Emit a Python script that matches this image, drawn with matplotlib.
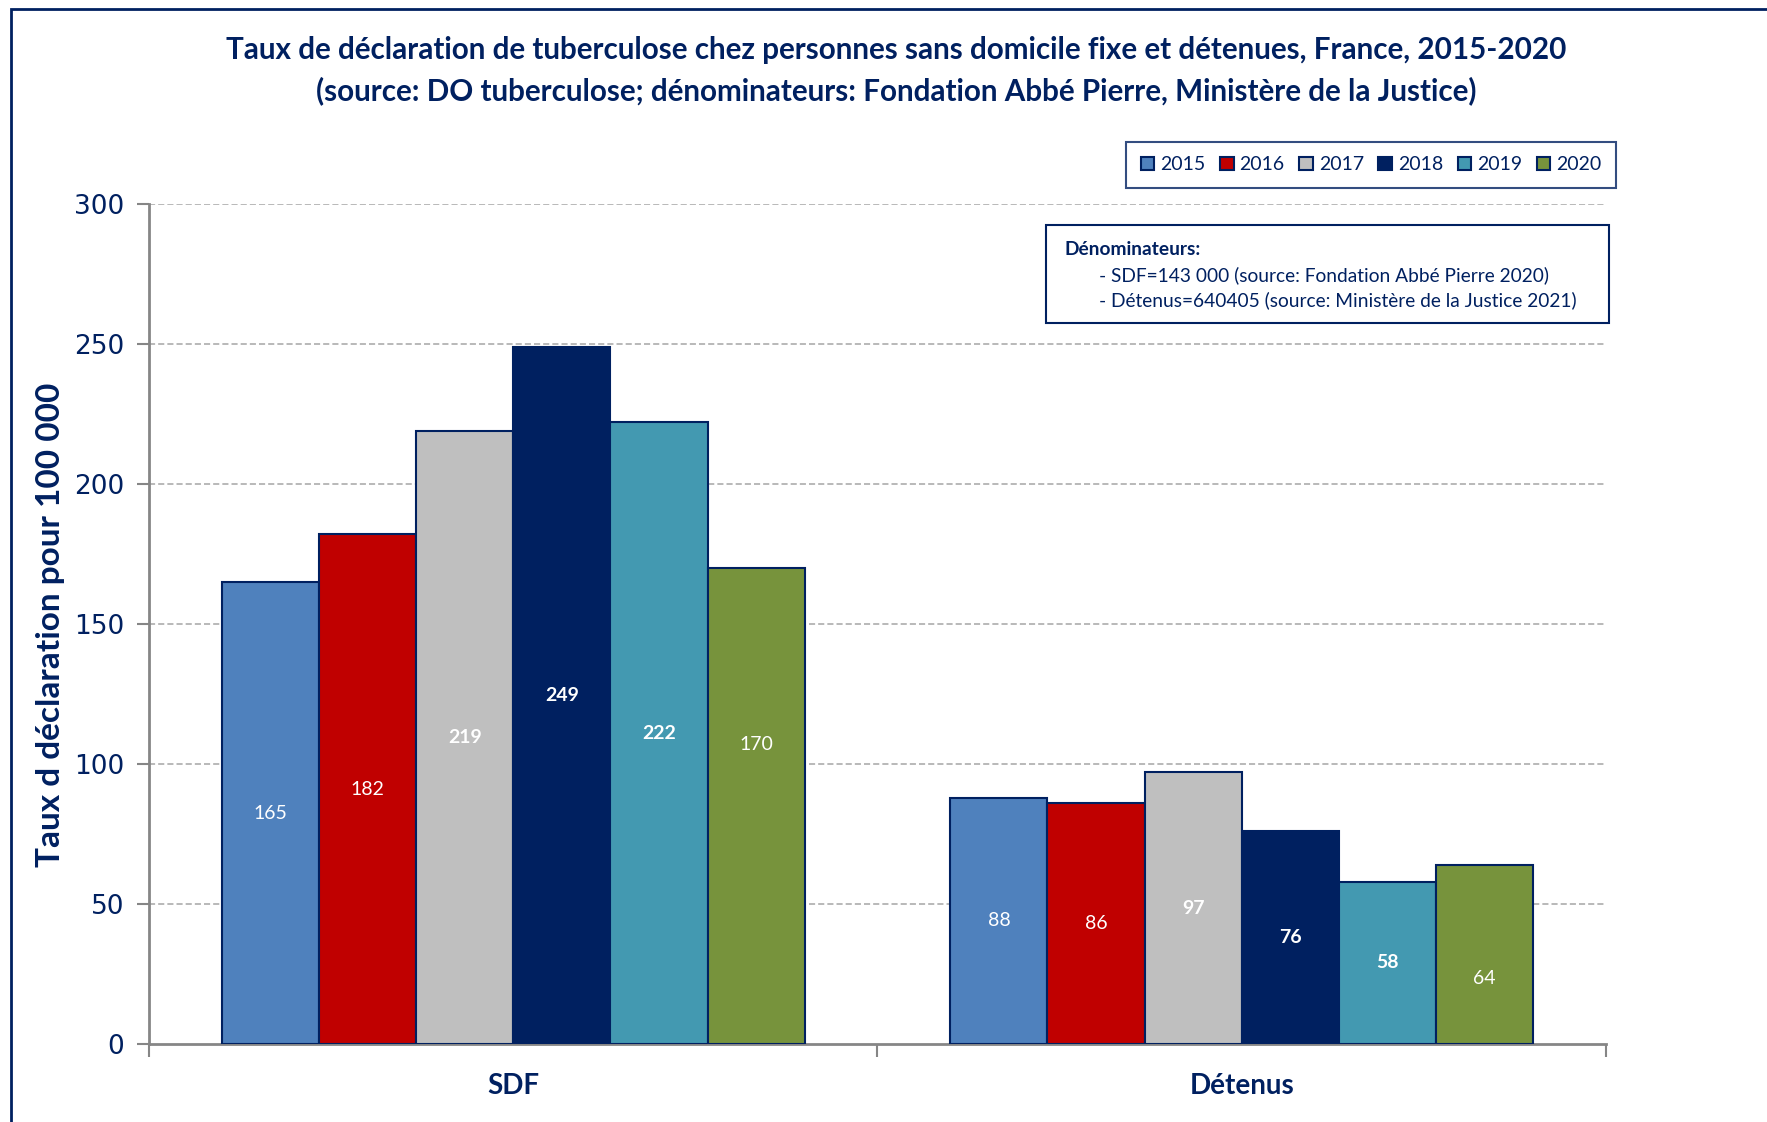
import matplotlib
matplotlib.use("Agg")
import matplotlib.pyplot as plt
from matplotlib.patches import Rectangle
import numpy as np

# data
groups = ["SDF", "Détenus"]
years = ["2015", "2016", "2017", "2018", "2019", "2020"]
sdf = [165, 182, 219, 249, 222, 170]
detenus = [88, 86, 97, 76, 58, 64]
yticks = [0, 50, 100, 150, 200, 250, 300]

colors = ["#4F81BD", "#C00000", "#BFBFBF", "#002060", "#4399B1", "#77933C"]
label_weights = ["normal", "normal", "bold", "bold", "bold", "normal"]
# the 2020 labels were nudged by hand in the original (offset in points, per group)
label_nudge = [(0, 0), (0, 0), (0, 0), (0, 0), (0, 0), (44, -17)]
navy = "#002060"

plt.rcParams["font.family"] = ["Lato", "DejaVu Sans"]

fig = plt.figure(figsize=(17.67, 11.22), dpi=100)
ax = fig.add_axes([0.0843, 0.0695, 0.8246, 0.7487])

x = np.arange(len(groups))
n = len(years)
width = 0.8 / n
for i, year in enumerate(years):
    vals = [sdf[i], detenus[i]]
    pos = x - 0.4 + width * (i + 0.5)
    bars = ax.bar(pos, vals, width, color=colors[i], edgecolor=navy,
                  linewidth=1.5, label=year, zorder=3)
    for j, (b, v) in enumerate(zip(bars, vals)):
        ax.annotate(str(v), (b.get_x() + b.get_width() / 2, v / 2),
                    xytext=(0, label_nudge[i][j]), textcoords="offset points",
                    ha="center", va="center", color="white", fontsize=14,
                    fontweight=label_weights[i], zorder=4)

ax.set_xlim(-0.5, 1.5)
ax.set_ylim(0, 300)
ax.set_yticks(yticks, labels=[str(t) for t in yticks],
              fontfamily="DejaVu Sans", fontsize=19, color=navy)
for y in yticks[1:]:
    ax.axhline(y, color="#A6A6A6", linestyle=(0, (4, 2)), linewidth=1.1, zorder=1)

ax.set_xticks(x)
ax.set_xticklabels(groups, fontsize=20, fontweight="bold", color=navy)
ax.set_xticks([-0.5, 0.5, 1.5], minor=True)
ax.tick_params(axis="x", which="major", length=0, pad=21)
ax.tick_params(axis="x", which="minor", length=9, width=1.5, color="#868686")
ax.tick_params(axis="y", length=9, width=1.5, color="#868686", pad=9)

for s in ["top", "right"]:
    ax.spines[s].set_visible(False)
for s in ["left", "bottom"]:
    ax.spines[s].set_color("#868686")
    ax.spines[s].set_linewidth(2)

fig.text(0.0288, 0.443, "Taux d déclaration pour 100 000", rotation=90,
         ha="center", va="center", fontsize=24, fontweight="bold", color=navy)

fig.text(0.507, 0.955, "Taux de déclaration de tuberculose chez personnes sans domicile fixe et détenues, France, 2015-2020",
         ha="center", va="center", fontsize=21.3, fontweight="bold", color=navy)
fig.text(0.507, 0.9196, "(source: DO tuberculose; dénominateurs: Fondation Abbé Pierre, Ministère de la Justice)",
         ha="center", va="center", fontsize=21.3, fontweight="bold", color=navy)

leg = fig.legend(loc="center", bbox_to_anchor=(0.776, 0.853), ncol=6,
                 fontsize=14, frameon=True, fancybox=False,
                 handlelength=0.7, handleheight=0.7, handletextpad=0.3,
                 columnspacing=0.75, borderpad=0.75)
leg.get_frame().set_edgecolor(navy)
leg.get_frame().set_linewidth(1.5)
for t in leg.get_texts():
    t.set_color(navy)

fig.patches.append(Rectangle((0.592, 0.7121), 0.3186, 0.0873, transform=fig.transFigure,
                             facecolor="white", edgecolor=navy, linewidth=1.5, zorder=5))
fig.text(0.6027, 0.778, "Dénominateurs:", fontsize=13.8, fontweight="bold",
         color=navy, va="center", zorder=6)
fig.text(0.622, 0.755, "- SDF=143 000 (source: Fondation Abbé Pierre 2020)",
         fontsize=13.8, color=navy, va="center", zorder=6)
fig.text(0.622, 0.732, "- Détenus=640405 (source: Ministère de la Justice 2021)",
         fontsize=13.8, color=navy, va="center", zorder=6)

# outer frame of the chart area
fig.patches.append(Rectangle((11 / 1767, -0.1), 1.2, 1.1 - 9 / 1122, transform=fig.transFigure,
                             facecolor="none", edgecolor=navy, linewidth=2, clip_on=False))

fig.savefig("out.png", dpi=100)
